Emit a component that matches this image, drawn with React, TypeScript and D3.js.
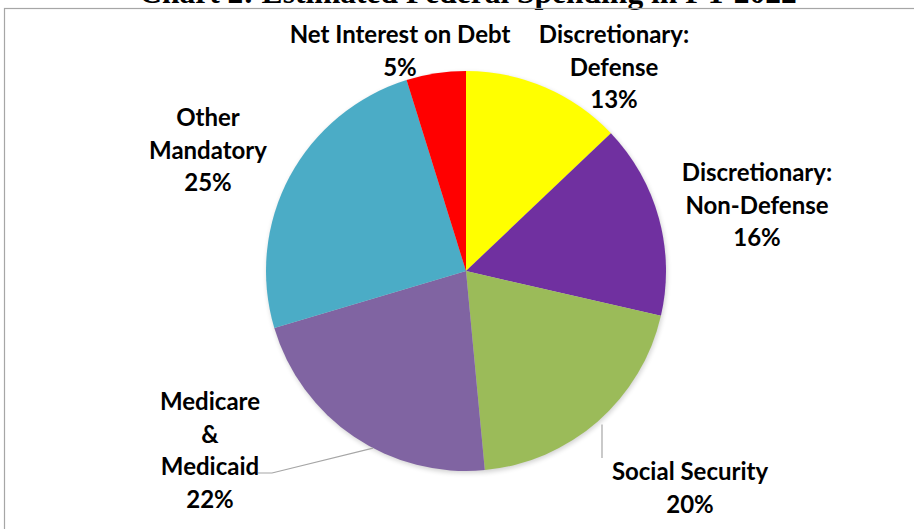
import { useMemo } from 'react'
import * as d3 from 'd3'

const WIDTH = 914
const HEIGHT = 529

// slices, clockwise from 12 o'clock
const categories = [
  'Discretionary: Defense',
  'Discretionary: Non-Defense',
  'Social Security',
  'Medicare & Medicaid',
  'Other Mandatory',
  'Net Interest on Debt',
]
const shares = [12.9, 15.7, 19.9, 21.9, 24.8, 4.8]
const pctLabels = ['13%', '16%', '20%', '22%', '25%', '5%']
const labelLines = [
  ['Discretionary:', 'Defense'],
  ['Discretionary:', 'Non-Defense'],
  ['Social Security'],
  ['Medicare', '&', 'Medicaid'],
  ['Other', 'Mandatory'],
  ['Net Interest on Debt'],
]
const COLORS = ['#ffff00', '#7030a0', '#9bbb59', '#8064a2', '#4bacc6', '#ff0000']

// label anchor (center of first line) for each slice
const labelPos: [number, number][] = [
  [614, 33],
  [757, 171],
  [690, 470],
  [210, 400],
  [208, 116],
  [400, 33],
]

const LINE_H = 32.5

export default function App() {
  const cx = 466
  const cy = 271
  const r = 200

  const arcs = useMemo(
    () =>
      d3
        .pie<number>()
        .sort(null)
        .value((d) => d)(shares),
    [],
  )
  const arc = d3.arc<d3.PieArcDatum<number>>().innerRadius(0).outerRadius(r)

  // leader line ends on the rim
  const rim = (i: number, t: number, rr: number) => {
    const a = arcs[i].startAngle + (arcs[i].endAngle - arcs[i].startAngle) * t
    return [cx + rr * Math.sin(a), cy - rr * Math.cos(a)]
  }
  const mm = rim(3, 0.42, r)
  const ssX = 602
  const ssY = cy + Math.sqrt((r + 5) ** 2 - (ssX - cx) ** 2)

  return (
    <svg
      width={WIDTH}
      height={HEIGHT}
      style={{ position: 'fixed', left: 0, top: 0, background: '#fff' }}
      fontFamily="Lato, 'Open Sans', sans-serif"
    >
      <defs>
        <filter id="soft" x="-10%" y="-10%" width="120%" height="120%">
          <feGaussianBlur stdDeviation="2.5" />
        </filter>
      </defs>
      <text
        x={468}
        y={2.5}
        textAnchor="middle"
        fontFamily="'Liberation Serif', 'Times New Roman', serif"
        fontWeight="bold"
        fontSize={31.5}
      >
        Chart 2: Estimated Federal Spending in FY 2022
      </text>
      <rect x={4.5} y={8.5} width={WIDTH + 20} height={HEIGHT + 20} fill="none" stroke="#a6a6a6" strokeWidth={1.2} />

      <circle cx={cx + 1} cy={cy + 2} r={r} fill="#000" opacity={0.18} filter="url(#soft)" />
      <g transform={`translate(${cx},${cy})`}>
        {arcs.map((d, i) => (
          <path key={categories[i]} d={arc(d) ?? ''} fill={COLORS[i]} />
        ))}
      </g>

      <g stroke="#a6a6a6" strokeWidth={1.2} fill="none">
        <polyline points={`${mm[0]},${mm[1]} 272,473 258,473`} />
        <line x1={ssX} y1={ssY} x2={ssX} y2={458} />
      </g>

      <g fontWeight="bold" fontSize={24} fill="#000" textAnchor="middle">
        {labelLines.map((lines, i) => {
          const [lx, ly] = labelPos[i]
          return (
            <text key={categories[i]} x={lx} y={ly} dominantBaseline="central">
              {lines.map((ln, j) => (
                <tspan key={j} x={lx} y={ly + j * LINE_H}>
                  {ln}
                </tspan>
              ))}
              <tspan x={lx} y={ly + lines.length * LINE_H}>
                {pctLabels[i]}
              </tspan>
            </text>
          )
        })}
      </g>
    </svg>
  )
}
